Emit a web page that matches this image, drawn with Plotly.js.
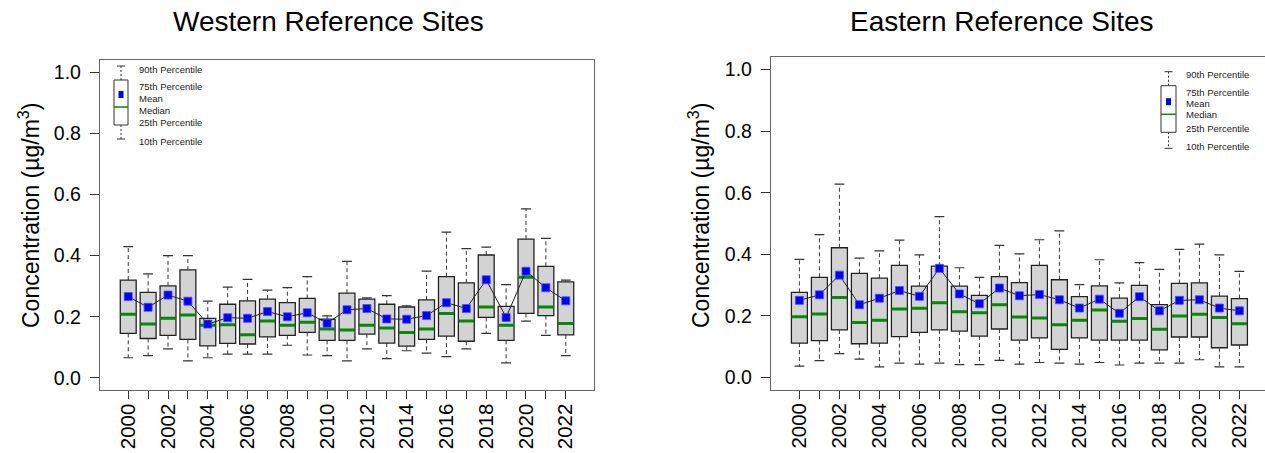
<!DOCTYPE html>
<html>
<head>
<meta charset="utf-8">
<script src="https://cdn.plot.ly/plotly-3.0.1.min.js"></script>
<style>html,body{margin:0;padding:0;background:#fff;}#chart{width:1265px;height:453px;}</style>
</head>
<body>
<div id="chart"></div>
<script>
// ---------------- DATA ----------------
const years = [2000,2001,2002,2003,2004,2005,2006,2007,2008,2009,2010,2011,2012,2013,2014,2015,2016,2017,2018,2019,2020,2021,2022];
const tickYears = [2000,2002,2004,2006,2008,2010,2012,2014,2016,2018,2020,2022];
const tickLabels = ["2000","2002","2004","2006","2008","2010","2012","2014","2016","2018","2020","2022"];
const minorYears = [2001,2003,2005,2007,2009,2011,2013,2015,2017,2019,2021];
const yTicks = [0,0.2,0.4,0.6,0.8,1.0];

// Western Reference Sites
const westP90    = [0.429,0.340,0.400,0.400,0.251,0.297,0.322,0.287,0.295,0.331,0.203,0.381,0.262,0.269,0.236,0.349,0.477,0.423,0.428,0.305,0.553,0.456,0.320];
const westQ3     = [0.320,0.280,0.301,0.353,0.195,0.241,0.252,0.258,0.246,0.260,0.192,0.277,0.258,0.241,0.232,0.255,0.331,0.311,0.402,0.234,0.454,0.365,0.314];
const westMean   = [0.266,0.231,0.271,0.251,0.176,0.197,0.195,0.217,0.200,0.213,0.179,0.223,0.227,0.193,0.192,0.204,0.246,0.227,0.321,0.198,0.349,0.295,0.252];
const westMedian = [0.208,0.176,0.195,0.206,0.172,0.174,0.141,0.186,0.172,0.182,0.160,0.157,0.172,0.163,0.149,0.160,0.211,0.186,0.232,0.172,0.329,0.232,0.178];
const westQ1     = [0.146,0.129,0.139,0.126,0.105,0.113,0.111,0.134,0.139,0.149,0.123,0.123,0.143,0.114,0.104,0.126,0.137,0.120,0.198,0.123,0.211,0.204,0.141];
const westP10    = [0.066,0.073,0.095,0.056,0.066,0.078,0.078,0.078,0.107,0.075,0.073,0.056,0.095,0.063,0.089,0.081,0.070,0.095,0.146,0.049,0.186,0.139,0.073];

// Eastern Reference Sites
const eastP90    = [0.383,0.464,0.628,0.387,0.411,0.446,0.398,0.522,0.356,0.325,0.429,0.401,0.447,0.476,0.301,0.382,0.307,0.373,0.351,0.416,0.433,0.398,0.344];
const eastQ3     = [0.276,0.325,0.421,0.338,0.322,0.364,0.296,0.361,0.296,0.266,0.327,0.308,0.364,0.317,0.262,0.297,0.257,0.299,0.236,0.305,0.307,0.264,0.256];
const eastMean   = [0.250,0.268,0.332,0.236,0.257,0.282,0.263,0.354,0.271,0.239,0.290,0.265,0.269,0.252,0.225,0.254,0.208,0.262,0.216,0.250,0.252,0.225,0.216];
const eastMedian = [0.197,0.206,0.259,0.178,0.185,0.222,0.224,0.242,0.213,0.210,0.236,0.196,0.193,0.171,0.185,0.219,0.182,0.191,0.156,0.199,0.205,0.194,0.174];
const eastQ1     = [0.111,0.119,0.154,0.109,0.111,0.132,0.146,0.154,0.150,0.134,0.157,0.121,0.128,0.091,0.128,0.121,0.121,0.121,0.089,0.131,0.131,0.096,0.105];
const eastP10    = [0.036,0.054,0.077,0.059,0.034,0.046,0.043,0.046,0.041,0.041,0.055,0.043,0.048,0.046,0.043,0.048,0.040,0.046,0.046,0.046,0.057,0.034,0.034];

const titleWest = "Western Reference Sites";
const titleEast = "Eastern Reference Sites";
const yTitle = "Concentration (µg/m<sup>3</sup>)";
const keyLabels = ["90th Percentile","75th Percentile","Mean","Median","25th Percentile","10th Percentile"];

// ---------------- STYLE ----------------
const W = 1265, H = 453;
const FONT = "Liberation Sans, Arial, Helvetica, sans-serif";
const px = x => x / W;
const py = y => 1 - y / H;
const GREEN = "#008B00", BLUE = "#0000FF", BOXFILL = "#D3D3D3", DARK = "#333333";

function panelTraces(xa, ya, p90, q3, mean, med, q1, p10) {
  const tr = [];
  tr.push({type:"box", xaxis:xa, yaxis:ya, x:years, q1:q1, median:med, q3:q3,
    lowerfence:q1, upperfence:q3, width:0.8, whiskerwidth:0, fillcolor:BOXFILL,
    line:{color:"#222", width:1.3}, boxpoints:false, hoverinfo:"skip", showlegend:false});
  const wx = [], wy = [];
  years.forEach((yr,i) => { wx.push(yr,yr,null,yr,yr,null); wy.push(q3[i],p90[i],null,q1[i],p10[i],null); });
  tr.push({type:"scatter", mode:"lines", xaxis:xa, yaxis:ya, x:wx, y:wy,
    line:{color:DARK, width:1, dash:"4px,3px"}, hoverinfo:"skip", showlegend:false});
  tr.push({type:"scatter", mode:"markers", xaxis:xa, yaxis:ya, x:years.concat(years), y:p90.concat(p10),
    marker:{symbol:"line-ew", size:7, line:{color:DARK, width:1.2}}, hoverinfo:"skip", showlegend:false});
  tr.push({type:"scatter", mode:"markers", xaxis:xa, yaxis:ya, x:years, y:med,
    marker:{symbol:"line-ew", size:11, line:{color:GREEN, width:3}}, hoverinfo:"skip", showlegend:false});
  tr.push({type:"scatter", mode:"lines+markers", xaxis:xa, yaxis:ya, x:years, y:mean,
    line:{color:"#222", width:1}, marker:{symbol:"square", size:8, color:BLUE, line:{color:"#4d4dff", width:0.8}},
    hoverinfo:"skip", showlegend:false});
  return tr;
}

const data = [].concat(
  panelTraces("x","y", westP90, westQ3, westMean, westMedian, westQ1, westP10),
  panelTraces("x2","y2", eastP90, eastQ3, eastMean, eastMedian, eastQ1, eastP10)
);

function xAxis(domain, range) {
  return {domain:domain, range:range, tickmode:"array", tickvals:tickYears, ticktext:tickLabels,
    tickangle:-90, ticks:"outside", ticklen:8, tickwidth:1, tickcolor:DARK, ticklabelstandoff:-4,
    minor:{tickmode:"array", tickvals:minorYears, ticks:"outside", ticklen:8, tickwidth:1, tickcolor:DARK, showgrid:false},
    showline:true, linecolor:"#666", linewidth:1.2, mirror:true, showgrid:false, zeroline:false,
    tickfont:{family:FONT, size:20.5, color:"#000"}, fixedrange:true};
}
function yAxis(domain, anchor, mirror) {
  return {domain:domain, anchor:anchor, range:[-0.04,1.04], tickmode:"array", tickvals:yTicks, tickformat:".1f",
    ticks:"outside", ticklen:9, tickwidth:1, tickcolor:DARK, ticklabelstandoff:5,
    showline:true, linecolor:"#666", linewidth:1.2, mirror:mirror, showgrid:false, zeroline:false,
    tickfont:{family:FONT, size:19.5, color:"#000"}, fixedrange:true};
}

// key (explanation box) drawn as decoration
function keyShapes(cx, boxTop, boxBot, capTop, capBot, medY, meanY, halfW) {
  const s = [];
  const line = (x0,y0,x1,y1,c,w,d) => s.push({type:"line", xref:"paper", yref:"paper",
    x0:px(x0), y0:py(y0), x1:px(x1), y1:py(y1), line:{color:c, width:w, dash:d||"solid"}});
  line(cx, capTop, cx, boxTop, DARK, 1, "2px,2px");
  line(cx, boxBot, cx, capBot, DARK, 1, "2px,2px");
  line(cx-4, capTop, cx+4, capTop, DARK, 1);
  line(cx-4, capBot, cx+4, capBot, DARK, 1);
  s.push({type:"rect", xref:"paper", yref:"paper", x0:px(cx-halfW), x1:px(cx+halfW), y0:py(boxBot), y1:py(boxTop),
    fillcolor:"#fff", line:{color:DARK, width:1}});
  line(cx-halfW, medY, cx+halfW, medY, GREEN, 1.5);
  s.push({type:"rect", xref:"paper", yref:"paper", x0:px(cx-2.5), x1:px(cx+2.5), y0:py(meanY+3.5), y1:py(meanY-3.5),
    fillcolor:BLUE, line:{width:0}});
  return s;
}
function keyAnns(x, ys) {
  return keyLabels.map((t,i) => ({text:t, xref:"paper", yref:"paper", x:px(x), y:py(ys[i]),
    xanchor:"left", yanchor:"middle", showarrow:false, font:{family:FONT, size:9.5, color:"#222"}}));
}

const shapes = [].concat(
  keyShapes(121, 80, 125, 66, 139, 107, 94.5, 7),
  keyShapes(1168.5, 85.7, 132.3, 71.7, 148.3, 114.3, 101.7, 7.5)
);

const annotations = [].concat(
  keyAnns(137, [69, 86.7, 98.3, 110.7, 122.3, 141]),
  keyAnns(1184, [74.3, 92.3, 103.3, 114.3, 128.3, 146.7]),
  [
    {text:titleWest, xref:"paper", yref:"paper", x:px(328), y:py(21), xanchor:"center", yanchor:"middle",
      showarrow:false, font:{family:FONT, size:28, color:"#000"}},
    {text:titleEast, xref:"paper", yref:"paper", x:px(1002), y:py(21), xanchor:"center", yanchor:"middle",
      showarrow:false, font:{family:FONT, size:28, color:"#000"}},
    {text:yTitle, xref:"paper", yref:"paper", x:px(29), y:py(216), textangle:-90, xanchor:"center", yanchor:"middle",
      showarrow:false, font:{family:FONT, size:23, color:"#000"}},
    {text:yTitle, xref:"paper", yref:"paper", x:px(699), y:py(216), textangle:-90, xanchor:"center", yanchor:"middle",
      showarrow:false, font:{family:FONT, size:23, color:"#000"}}
  ]
);

const layout = {
  width:W, height:H, margin:{l:0, r:0, t:0, b:0}, paper_bgcolor:"#fff", plot_bgcolor:"#fff",
  showlegend:false, boxmode:"overlay",
  xaxis: Object.assign(xAxis([px(100), px(594)], [1998.58, 2023.42]), {anchor:"y"}),
  yaxis: yAxis([py(390.2), py(59.8)], "x", true),
  xaxis2: Object.assign(xAxis([px(771), 1], [1998.58, 1998.58 + 494/20]), {anchor:"y2"}),
  yaxis2: yAxis([py(389.6), py(57.3)], "x2", false),
  shapes: shapes, annotations: annotations
};

Plotly.newPlot("chart", data, layout, {staticPlot:true, displayModeBar:false});
</script>
</body>
</html>
